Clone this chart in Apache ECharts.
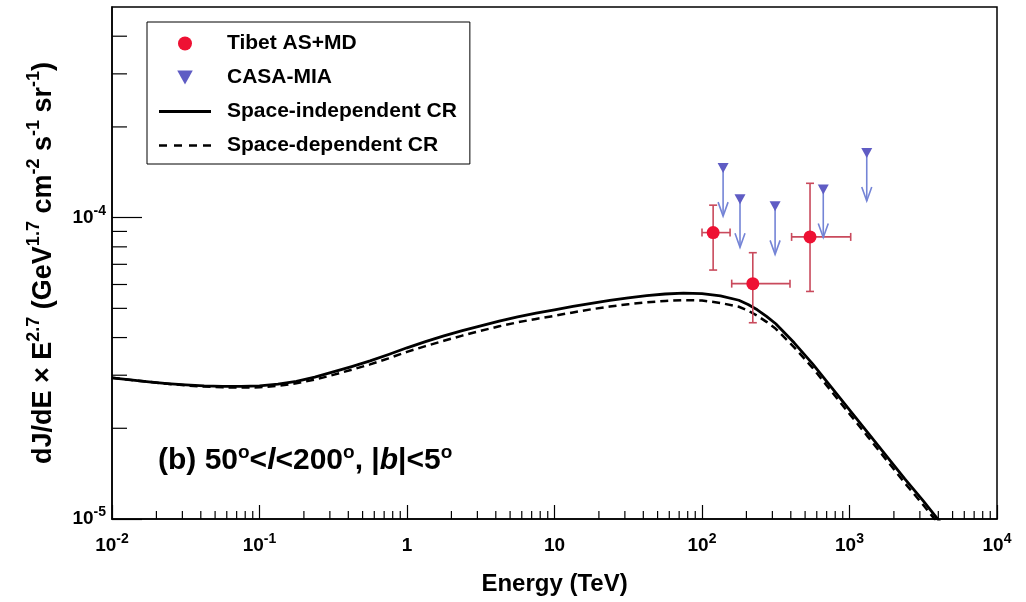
<!DOCTYPE html>
<html>
<head>
<meta charset="utf-8">
<script src="https://cdn.jsdelivr.net/npm/echarts@6/dist/echarts.min.js"></script>
<style>
  html, body { margin: 0; padding: 0; background: #fff; }
  #chart { width: 1026px; height: 602px; }
</style>
</head>
<body>
<div id="chart"></div>
<script>
const FONT = '"Liberation Sans", Arial, Helvetica, sans-serif';

// model curves, E in TeV (8 points per decade, denser at the knee)
const energy = [
  0.01, 0.01334, 0.01778, 0.02371, 0.03162, 0.04217, 0.05623, 0.07499,
  0.1, 0.1334, 0.1778, 0.2371, 0.3162, 0.4217, 0.5623, 0.7499,
  1, 1.334, 1.778, 2.371, 3.162, 4.217, 5.623, 7.499,
  10, 13.34, 17.78, 23.71, 31.62, 42.17, 56.23, 74.99,
  100, 133.4, 177.8, 205.4, 237.1, 273.8, 316.2, 421.7, 562.3, 749.9,
  1000, 1334, 1778, 2371, 3162, 4217
];
const spaceIndependent = [
  2.940e-5, 2.895e-5, 2.851e-5, 2.814e-5, 2.786e-5, 2.765e-5, 2.755e-5, 2.755e-5,
  2.765e-5, 2.801e-5, 2.862e-5, 2.955e-5, 3.078e-5, 3.205e-5, 3.348e-5, 3.514e-5,
  3.699e-5, 3.878e-5, 4.054e-5, 4.218e-5, 4.376e-5, 4.536e-5, 4.687e-5, 4.822e-5,
  4.945e-5, 5.075e-5, 5.197e-5, 5.314e-5, 5.420e-5, 5.512e-5, 5.580e-5, 5.614e-5,
  5.600e-5, 5.498e-5, 5.320e-5, 5.152e-5, 4.945e-5, 4.704e-5, 4.445e-5, 3.843e-5, 3.272e-5, 2.744e-5,
  2.301e-5, 1.931e-5, 1.619e-5, 1.358e-5, 1.148e-5, 9.62e-6
];
const spaceDependent = [
  2.940e-5, 2.895e-5, 2.851e-5, 2.810e-5, 2.776e-5, 2.750e-5, 2.734e-5, 2.730e-5,
  2.734e-5, 2.765e-5, 2.819e-5, 2.900e-5, 3.008e-5, 3.128e-5, 3.260e-5, 3.413e-5,
  3.587e-5, 3.747e-5, 3.902e-5, 4.060e-5, 4.212e-5, 4.359e-5, 4.494e-5, 4.613e-5,
  4.723e-5, 4.848e-5, 4.966e-5, 5.070e-5, 5.160e-5, 5.235e-5, 5.292e-5, 5.324e-5,
  5.308e-5, 5.211e-5, 5.062e-5, 4.913e-5, 4.723e-5, 4.510e-5, 4.278e-5, 3.713e-5, 3.174e-5, 2.661e-5,
  2.233e-5, 1.873e-5, 1.571e-5, 1.317e-5, 1.113e-5, 9.34e-6
];

// Tibet AS+MD
const tibetE = [119, 221, 540];
const tibetFlux = [8.92e-5, 6.04e-5, 8.63e-5];
const tibetElo = [100, 159, 405];
const tibetEhi = [155, 395, 1019];
const tibetFlo = [6.7e-5, 4.48e-5, 5.69e-5];
const tibetFhi = [1.10e-4, 7.65e-5, 1.30e-4];

// CASA-MIA upper limits
const casaE = [139, 181, 313, 664, 1309];
const casaLimit = [1.46e-4, 1.15e-4, 1.09e-4, 1.24e-4, 1.64e-4];

// axis labels by decade
const xTickText = ['{b|10}{s|-2}', '{b|10}{s|-1}', '{b|1}', '{b|10}', '{b|10}{s|2}', '{b|10}{s|3}', '{b|10}{s|4}'];
const yTickText = ['{b|10}{s|-5}', '{b|10}{s|-4}'];

const xMinor = [];
for (let k = -2; k < 4; k++) for (let m = 2; m <= 9; m++) xMinor.push(m * Math.pow(10, k));
const yMinor = [];
for (let k = -5; k < -3; k++) for (let m = 2; m <= 9; m++) if (m * Math.pow(10, k) < 5e-4) yMinor.push(m * Math.pow(10, k));

const labelRich = {
  b: { fontSize: 19, fontWeight: 'bold', fontFamily: FONT, color: '#000', lineHeight: 28 },
  s: { fontSize: 14, fontWeight: 'bold', fontFamily: FONT, color: '#000', lineHeight: 12, verticalAlign: 'top' }
};

// legend icons: thin bars inside a 52x14 box (tiny corner dots fix the box)
const BOX = 'M0,0h0.1v0.1h-0.1z M51.9,13.9h0.1v0.1h-0.1z ';
const solidIcon = 'path://' + BOX + 'M0,5.6h52v2.8h-52z';
const dashIcon = 'path://' + BOX + 'M0,5.7h8v2.6h-8z M15,5.7h8v2.6h-8z M30,5.7h8v2.6h-8z M44,5.7h8v2.6h-8z';

function decade(v) {
  const e = Math.log10(v);
  return Math.abs(e - Math.round(e)) < 1e-6 ? Math.round(e) : null;
}

const chart = echarts.init(document.getElementById('chart'));

const option = {
  backgroundColor: '#fff',
  animation: false,
  grid: {
    left: 112, right: 29, top: 7, bottom: 83,
    containLabel: false, outerBoundsMode: 'none',
    show: true, borderColor: '#000', borderWidth: 1.5, backgroundColor: '#fff'
  },
  title: {
    text: '(b) 50{s|o}<{i|l}<200{s|o}, |{i|b}|<5{s|o}',
    left: 158, top: 443, padding: 0,
    textStyle: {
      fontSize: 30, fontWeight: 'bold', fontFamily: FONT, color: '#000', lineHeight: 36,
      rich: {
        s: { fontSize: 19, fontWeight: 'bold', fontFamily: FONT, color: '#000', lineHeight: 15, verticalAlign: 'top' },
        i: { fontSize: 30, fontWeight: 'bold', fontStyle: 'italic', fontFamily: FONT, color: '#000', lineHeight: 36 }
      }
    }
  },
  legend: {
    orient: 'vertical', left: 147, top: 22,
    padding: [11, 13, 8, 12],
    itemWidth: 52, itemHeight: 14, itemGap: 13,
    backgroundColor: '#fff', borderColor: '#000', borderWidth: 1,
    data: [
      { name: 'Tibet AS+MD' },
      { name: 'CASA-MIA' },
      { name: 'Space-independent CR', icon: solidIcon, itemStyle: { color: '#000' } },
      { name: 'Space-dependent CR', icon: dashIcon, itemStyle: { color: '#000' } }
    ],
    textStyle: { fontSize: 21, fontWeight: 'bold', fontFamily: FONT, color: '#000', padding: [0, 0, 0, 11] }
  },
  xAxis: {
    type: 'log', logBase: 10, min: 0.01, max: 10000,
    name: 'Energy (TeV)', nameLocation: 'middle', nameGap: 53,
    nameTextStyle: { fontSize: 24, fontWeight: 'bold', fontFamily: FONT, color: '#000' },
    axisLine: { show: true, onZero: false, lineStyle: { color: '#000', width: 1.5 } },
    axisTick: { show: true, inside: true, length: 14, lineStyle: { color: '#000', width: 1.2 } },
    axisLabel: {
      margin: 13,
      formatter: v => { const d = decade(v); return d === null ? '' : xTickText[d + 2]; },
      rich: labelRich
    },
    splitLine: { show: false }
  },
  yAxis: {
    type: 'log', logBase: 10, min: 1e-5, max: 5e-4,
    name: 'dJ/dE × E{s|2.7} (GeV{s|1.7} cm{s|-2} s{s|-1} sr{s|-1})',
    nameLocation: 'middle', nameRotate: 90, nameGap: 50,
    nameTextStyle: {
      fontSize: 27, fontWeight: 'bold', fontFamily: FONT, color: '#000', lineHeight: 36,
      rich: {
        s: { fontSize: 18, fontWeight: 'bold', fontFamily: FONT, color: '#000', lineHeight: 14, verticalAlign: 'top' }
      }
    },
    axisLine: { show: true, onZero: false, lineStyle: { color: '#000', width: 1.5 } },
    axisTick: { show: true, inside: true, length: 30, lineStyle: { color: '#000', width: 1.2 } },
    axisLabel: {
      margin: 6, showMaxLabel: false,
      formatter: v => { const d = decade(v); return d === null ? '' : yTickText[d + 5]; },
      rich: labelRich
    },
    splitLine: { show: false }
  },
  series: [
    {
      name: 'minorX', type: 'custom', silent: true, clip: false, z: 1,
      data: xMinor.map(v => [v, 1e-5]),
      renderItem: (params, api) => {
        const p = api.coord([api.value(0), api.value(1)]);
        return { type: 'line', shape: { x1: p[0], y1: p[1], x2: p[0], y2: p[1] - 8 }, style: { stroke: '#000', lineWidth: 1.2 } };
      }
    },
    {
      name: 'minorY', type: 'custom', silent: true, clip: false, z: 1,
      data: yMinor.map(v => [0.01, v]),
      renderItem: (params, api) => {
        const p = api.coord([api.value(0), api.value(1)]);
        return { type: 'line', shape: { x1: p[0], y1: p[1], x2: p[0] + 15, y2: p[1] }, style: { stroke: '#000', lineWidth: 1.2 } };
      }
    },
    {
      name: 'Space-independent CR', type: 'line', symbol: 'none',
      smooth: false, z: 3,
      lineStyle: { color: '#000', width: 2.8, type: 'solid', join: 'round' },
      itemStyle: { color: '#000' },
      data: energy.map((e, i) => [e, spaceIndependent[i]])
    },
    {
      name: 'Space-dependent CR', type: 'line', symbol: 'none',
      smooth: false, z: 3,
      lineStyle: { color: '#000', width: 2.5, type: [8, 5], join: 'round' },
      itemStyle: { color: '#000' },
      data: energy.map((e, i) => [e, spaceDependent[i]])
    },
    {
      name: 'tibetErr', type: 'custom', silent: true, z: 4,
      data: tibetE.map((e, i) => [e, tibetFlux[i], tibetElo[i], tibetEhi[i], tibetFlo[i], tibetFhi[i]]),
      renderItem: (params, api) => {
        const y = api.value(1);
        const l = api.coord([api.value(2), y]);
        const r = api.coord([api.value(3), y]);
        const lo = api.coord([api.value(0), api.value(4)]);
        const hi = api.coord([api.value(0), api.value(5)]);
        const st = { stroke: '#c94a5c', lineWidth: 1.6 };
        const c = 4;
        return {
          type: 'group', children: [
            { type: 'line', shape: { x1: l[0], y1: l[1], x2: r[0], y2: r[1] }, style: st },
            { type: 'line', shape: { x1: lo[0], y1: lo[1], x2: hi[0], y2: hi[1] }, style: st },
            { type: 'line', shape: { x1: l[0], y1: l[1] - c, x2: l[0], y2: l[1] + c }, style: st },
            { type: 'line', shape: { x1: r[0], y1: r[1] - c, x2: r[0], y2: r[1] + c }, style: st },
            { type: 'line', shape: { x1: lo[0] - c, y1: lo[1], x2: lo[0] + c, y2: lo[1] }, style: st },
            { type: 'line', shape: { x1: hi[0] - c, y1: hi[1], x2: hi[0] + c, y2: hi[1] }, style: st }
          ]
        };
      }
    },
    {
      name: 'casaArrow', type: 'custom', silent: true, z: 4,
      data: casaE.map((e, i) => [e, casaLimit[i]]),
      renderItem: (params, api) => {
        const p = api.coord([api.value(0), api.value(1)]);
        const st = { stroke: '#7484d6', lineWidth: 1.6, fill: null };
        return {
          type: 'group', children: [
            { type: 'line', shape: { x1: p[0], y1: p[1], x2: p[0], y2: p[1] + 48 }, style: st },
            { type: 'polyline', shape: { points: [[p[0] - 5, p[1] + 34], [p[0], p[1] + 48], [p[0] + 5, p[1] + 34]] }, style: st }
          ]
        };
      }
    },
    {
      name: 'Tibet AS+MD', type: 'scatter', symbol: 'circle', symbolSize: 13, z: 5,
      itemStyle: { color: '#ee1133', opacity: 1 },
      data: tibetE.map((e, i) => [e, tibetFlux[i]])
    },
    {
      name: 'CASA-MIA', type: 'scatter', symbol: 'path://M0,0 L10,0 L5,9 Z', symbolSize: [11, 10], z: 5,
      itemStyle: { color: '#5f5cc4', opacity: 1 },
      data: casaE.map((e, i) => [e, casaLimit[i]])
    }
  ]
};

chart.setOption(option);
</script>
</body>
</html>
